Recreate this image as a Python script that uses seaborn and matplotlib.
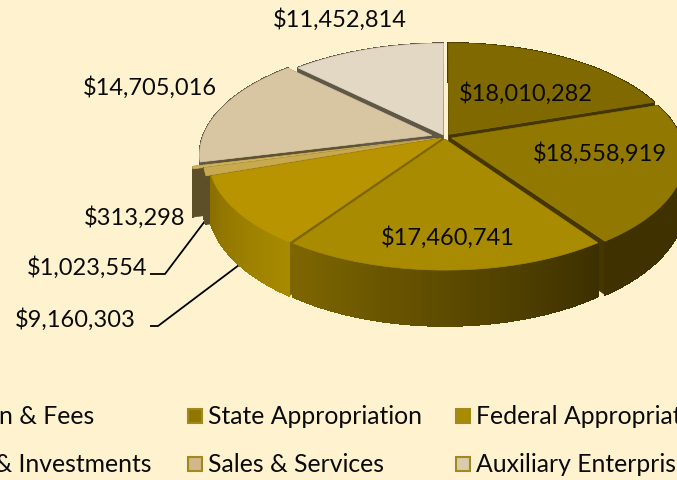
import numpy as np
import matplotlib
matplotlib.use("Agg")
import matplotlib.pyplot as plt
from matplotlib.patches import Polygon, Rectangle
import seaborn as sns

# ---- data
values = [18010282, 18558919, 17460741, 9160303, 1023554, 313298, 14705016, 11452814]
value_labels = ["$18,010,282", "$18,558,919", "$17,460,741", "$9,160,303",
                "$1,023,554", "$313,298", "$14,705,016", "$11,452,814"]
legend_row1 = ["Tuition & Fees", "State Appropriation", "Federal Appropriation"]
legend_row2 = ["Gifts & Investments", "Sales & Services", "Auxiliary Enterprises"]

# ---- styling
explode = [0.03, 0.03, 0.02, 0.02, 0.04, 0.085, 0.06, 0.022]
top_colors = ["#806A00", "#917800", "#A88B00", "#B89400", "#C9A94E", "#CDB25C", "#D8C6A2", "#E3D8C3"]
arc_colors = [("#4A3B00", "#403200"), ("#403200", "#403200"), ("#3D3000", "#7D6600"),
              ("#A88A00", "#8A7000"), ("#5D4F28", "#5D4F28"), ("#5D4F28", "#5D4F28"),
              ("#5F5847", "#5F5847"), ("#5F5847", "#5F5847")]
start_wall = ["#4A3B00", "#403200", "#403200", "#7D6600", "#5D4F28", "#5D4F28", "#605230", "#5F5847"]
end_wall = ["#453600", "#453600", "#7D6600", "#7D6600", "#5D4F28", "#5D4F28", "#5F5847", "#5F5847"]
draw_order = [7, 0, 6, 5, 4, 1, 3, 2]
bg = "#FFF3CF"

CX, CY, RX, RY, P, DEPTH = 445, 137, 229, 107.7, 0.171, 46


def project(u, v):
    d = 1 + P * v
    return CX + RX * u / d, CY - RY * v / d


sns.set_theme(style="white", rc={"figure.facecolor": bg, "axes.facecolor": bg})
plt.rcParams["font.family"] = ["Lato", "DejaVu Sans"]

fig = plt.figure(figsize=(6.77, 4.80), dpi=100)
ax = fig.add_axes([0, 0, 1, 1])

wedges, _ = ax.pie(values, explode=explode, startangle=90, counterclock=False, radius=1)
geometry = [(w.center, w.theta1, w.theta2) for w in wedges]
for w in wedges:
    w.remove()

ax.set_aspect("auto")
ax.set_xlim(0, 677)
ax.set_ylim(480, 0)
ax.axis("off")


def wall_pts(p0, p1):
    x0, y0 = project(*p0)
    x1, y1 = project(*p1)
    d0 = DEPTH / (1 + P * p0[1])
    d1 = DEPTH / (1 + P * p1[1])
    return [(x0, y0), (x1, y1), (x1, y1 + d1), (x0, y0 + d0)]


for rank, i in enumerate(draw_order):
    (cu, cv), t1, t2 = geometry[i]
    th = np.radians(np.linspace(t1, t2, 60))
    us = cu + np.cos(th)
    vs = cv + np.sin(th)
    z = 2 + rank
    us_cw, vs_cw = us[::-1], vs[::-1]
    for tip, col in (((us_cw[0], vs_cw[0]), start_wall[i]), ((us_cw[-1], vs_cw[-1]), end_wall[i])):
        ax.add_patch(Polygon(wall_pts((cu, cv), tip), closed=True, fc=col, ec=col, lw=0.4, zorder=z))
    shades = sns.blend_palette(list(arc_colors[i]), len(us_cw) - 1)
    for k in range(len(us_cw) - 1):
        ax.add_patch(Polygon(wall_pts((us_cw[k], vs_cw[k]), (us_cw[k + 1], vs_cw[k + 1])),
                             closed=True, fc=shades[k], ec=shades[k], lw=0.8,
                             antialiased=False, zorder=z))
    pts = [project(cu, cv)] + [project(a, b) for a, b in zip(us, vs)]
    ax.add_patch(Polygon(pts, closed=True, fc=top_colors[i], ec=top_colors[i], lw=0.5, zorder=z + 0.5))

# value labels
label_pos = [(526, 94), (600, 154), (448, 238), (75, 320), (87, 268), (135, 218), (150, 88), (340, 20)]
FS = 17
for (x, y), s in zip(label_pos, value_labels):
    ax.text(x, y, s, ha="center", va="center", fontsize=FS, color="#0A0A0A", zorder=30)

# leader lines
ax.plot([150, 158, 243], [326, 326, 262], color="black", lw=1.3, zorder=1, solid_capstyle="butt")
ax.plot([150, 165, 205], [274, 274, 221], color="black", lw=1.3, zorder=1, solid_capstyle="butt")

# legend (cropped by the picture edge as in the source)
LFS = 17.8
ax.text(94, 417, legend_row1[0], ha="right", va="center", fontsize=LFS, color="#0A0A0A")
ax.text(152, 465, legend_row2[0], ha="right", va="center", fontsize=LFS, color="#0A0A0A")
entries = [
    (187, 416, legend_row1[1], "#8F7700"),
    (455, 416, legend_row1[2], "#A88B00"),
    (187, 464, legend_row2[1], "#D0B888"),
    (455, 464, legend_row2[2], "#DCCBAA"),
]
for x, y, s, c in entries:
    ax.add_patch(Rectangle((x + 1, y - 7), 14, 14, fc=c, ec="#A08A20", lw=1.5, zorder=5))
    ax.text(x + 21, y + 1, s, ha="left", va="center", fontsize=LFS, color="#0A0A0A", clip_on=False)

fig.savefig("out.png", dpi=100, facecolor=bg)
